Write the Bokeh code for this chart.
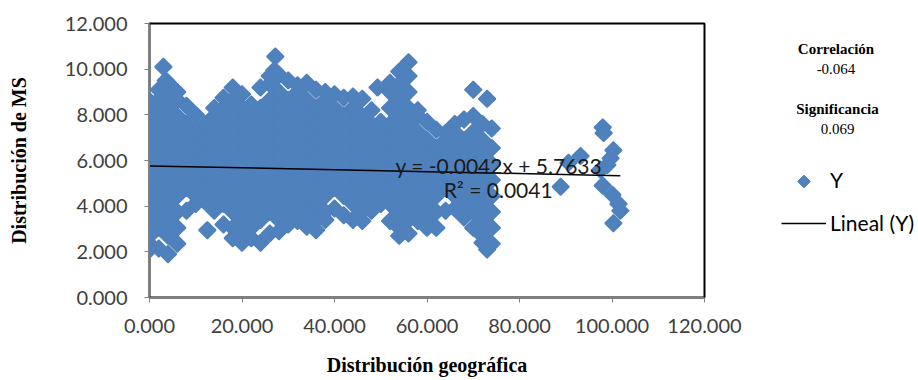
import math
from bokeh.plotting import figure
from bokeh.layouts import row
from bokeh.models import (Range1d, NumeralTickFormatter, FixedTicker, Label,
                          Legend, LegendItem)
from bokeh.embed import file_html
from bokeh.resources import INLINE

# ---- data ----
cloud_x = [0, 2, 4, 6, 8, 10, 12, 14, 16, 18, 20, 22, 24, 26, 28, 30, 32, 34, 36,
           38, 40, 42, 44, 46, 48, 50, 52, 54, 56, 58, 60, 62, 64, 66, 68, 70, 72, 74]
cloud_y = [
    [2.1, 2.35, 2.7, 3.05, 3.4, 3.75, 4.1, 4.45, 4.8, 5.15, 5.5, 5.85, 6.2, 6.55, 6.9, 7.25, 7.6, 7.95, 8.3, 8.6],
    [2.15, 3.05, 3.75, 4.45, 5.15, 5.85, 6.55, 7.25, 7.95, 8.65, 9.1],
    [1.9, 2.7, 3.4, 4.1, 4.8, 5.5, 6.2, 6.9, 7.6, 8.3, 9.0, 9.4],
    [2.35, 3.05, 3.75, 4.45, 5.15, 5.85, 6.55, 7.25, 7.95, 8.65, 9.0],
    [3.8, 4.8, 5.5, 6.2, 6.9, 7.6, 8.4],
    [4.1, 4.45, 5.15, 5.85, 6.55, 7.25, 8.0],
    [4.2, 4.8, 5.5, 6.2, 6.9, 7.6],
    [3.8, 4.45, 5.15, 5.85, 6.55, 7.25, 7.95, 8.3],
    [3.2, 4.1, 4.8, 5.5, 6.2, 6.9, 7.6, 8.3, 8.75],
    [2.6, 3.05, 3.75, 4.45, 5.15, 5.85, 6.55, 7.25, 7.95, 8.65, 9.2],
    [2.4, 2.7, 3.4, 4.1, 4.8, 5.5, 6.2, 6.9, 7.6, 8.3, 8.9],
    [2.6, 3.05, 3.75, 4.45, 5.15, 5.85, 6.55, 7.25, 7.95, 8.45],
    [2.4, 3.4, 4.1, 4.8, 5.5, 6.2, 6.9, 7.6, 8.3, 9.2],
    [2.8, 3.75, 4.45, 5.15, 5.85, 6.55, 7.25, 7.95, 8.65, 9.35, 9.7],
    [2.9, 3.4, 4.1, 4.8, 5.5, 6.2, 6.9, 7.6, 8.3, 9.0, 9.75],
    [3.2, 3.75, 4.45, 5.15, 5.85, 6.55, 7.25, 7.95, 8.65, 9.5],
    [3.35, 4.1, 4.8, 5.5, 6.2, 6.9, 7.6, 8.3, 9.0, 9.3],
    [3.1, 3.75, 4.45, 5.15, 5.85, 6.55, 7.25, 7.95, 8.65, 9.4],
    [2.95, 3.4, 4.1, 4.8, 5.5, 6.2, 6.9, 7.6, 8.3, 9.1],
    [3.4, 3.75, 4.45, 5.15, 5.85, 6.55, 7.25, 7.95, 8.65, 9.0],
    [3.9, 4.8, 5.5, 6.2, 6.9, 7.6, 8.3, 8.9],
    [3.6, 4.45, 5.15, 5.85, 6.55, 7.25, 7.95, 8.75],
    [3.4, 4.1, 4.8, 5.5, 6.2, 6.9, 7.6, 8.3, 8.8],
    [3.35, 3.75, 4.45, 5.15, 5.85, 6.55, 7.25, 7.95, 8.7],
    [3.8, 4.1, 4.8, 5.5, 6.2, 6.9, 7.6, 8.2],
    [4.1, 4.45, 5.15, 5.85, 6.55, 7.25, 7.7],
    [3.35, 4.1, 4.8, 5.5, 6.2, 6.9, 7.6, 8.3, 9.0, 9.4],
    [2.7, 3.05, 3.75, 4.45, 5.15, 5.85, 6.55, 7.25, 7.95, 8.65, 9.35, 9.9],
    [2.8, 3.4, 4.1, 4.8, 5.5, 6.2, 6.9, 7.6, 8.3, 9.0, 9.7, 10.3],
    [3.35, 3.75, 4.45, 5.15, 5.85, 6.55, 7.25, 7.95, 8.2],
    [3.05, 3.4, 4.1, 4.8, 5.5, 6.2, 6.9, 7.7],
    [3.05, 3.75, 4.45, 5.15, 5.85, 6.55, 7.35],
    [3.8, 4.8, 5.5, 6.2, 6.9, 7.2],
    [3.9, 4.45, 5.15, 5.85, 6.55, 7.25, 7.6],
    [3.5, 4.1, 4.8, 5.5, 6.2, 6.9, 7.8],
    [3.05, 3.75, 4.45, 5.15, 5.85, 6.55, 7.25, 7.95],
    [2.4, 2.7, 3.4, 4.1, 4.8, 5.5, 6.2, 6.9, 7.6],
    [2.35, 3.05, 3.75, 4.45, 5.15, 5.85, 6.55, 7.4],
]
outlier_x = [3, 3.5, 12.5, 27.2, 27, 49.3, 70, 73, 73, 88.9, 90.6, 93.2, 97.5, 98,
             98.2, 99, 99.7, 100.3, 98, 100.1, 101.4, 101.8, 100.3]
outlier_y = [10.1, 9.5, 2.95, 10.55, 9.95, 9.2, 9.1, 8.7, 2.1, 4.85, 5.9, 6.2, 5.6, 7.45,
             7.2, 5.8, 6.1, 6.45, 4.9, 4.5, 4.1, 3.8, 3.25]

x_ticks = [0, 20, 40, 60, 80, 100, 120]
y_ticks = [0, 2, 4, 6, 8, 10, 12]
trend_slope = -0.0042
trend_intercept = 5.7633
trend_text = "y = -0.0042x + 5.7633"
r2_text = "R² = 0.0041"
correlation_value = "-0.064"
significance_value = "0.069"

# ---- build points ----
xs, ys = [], []
for cx, col in zip(cloud_x, cloud_y):
    for cy in col:
        xs.append(cx)
        ys.append(cy)
xs += outlier_x
ys += outlier_y

BLUE = "#4F81BD"

# ---- main chart ----
p = figure(width=744, height=380, x_range=Range1d(0, 120), y_range=Range1d(0, 12),
           output_backend="svg", toolbar_location=None,
           min_border_left=149, min_border_right=40, min_border_top=23, min_border_bottom=83)
p.grid.visible = False
p.outline_line_color = "black"
p.outline_line_width = 2

sc = p.scatter(xs, ys, marker="square", angle=math.pi / 4, size=12,
               fill_color=BLUE, line_color=BLUE, line_width=1.5)
tx = [0, max(xs)]
ty = [trend_intercept + trend_slope * v for v in tx]
tl = p.line(tx, ty, line_color="black", line_width=1.5)

for ax in (p.xaxis[0], p.yaxis[0]):
    ax.axis_line_color = "#7f7f7f"
    ax.major_tick_line_color = "#7f7f7f"
    ax.major_tick_out = 5
    ax.major_tick_in = 0
    ax.minor_tick_line_color = None
    ax.major_label_text_font = "Lato"
    ax.major_label_text_font_size = "20px"
    ax.major_label_text_color = "#404040"
    ax.formatter = NumeralTickFormatter(format="0.000")
    ax.axis_label_text_font = "Liberation Serif"
    ax.axis_label_text_font_style = "bold"
    ax.axis_label_text_font_size = "20px"
    ax.axis_label_text_color = "black"

p.xaxis[0].ticker = FixedTicker(ticks=x_ticks)
p.yaxis[0].ticker = FixedTicker(ticks=y_ticks)
p.xaxis[0].axis_label = "Distribución geográfica"
p.yaxis[0].axis_label = "Distribución de MS"
p.xaxis[0].major_label_standoff = 16
p.xaxis[0].axis_label_standoff = 18
p.yaxis[0].major_label_standoff = 17
p.yaxis[0].axis_label_standoff = 32

p.add_layout(Label(x=53.2, y=5.8, text=trend_text, text_font="Lato", text_font_size="21px",
                   text_baseline="middle", text_color="#1a1a1a"))
p.add_layout(Label(x=63.6, y=4.75, text=r2_text, text_font="Lato", text_font_size="21px",
                   text_baseline="middle", text_color="#1a1a1a"))

# ---- right-hand panel: statistics and legend ----
# its frame is aligned with the main frame (page y 23..297), 1 unit = 1 px
p2 = figure(width=174, height=380, x_range=Range1d(0, 174), y_range=Range1d(0, 274),
            output_backend="svg", toolbar_location=None,
            min_border_left=0, min_border_right=0, min_border_top=23, min_border_bottom=83,
            x_axis_type=None, y_axis_type=None)
p2.outline_line_color = None

side = [("Correlación", 91.5, 249, "bold"), (correlation_value, 91.5, 229, "normal"),
        ("Significancia", 93, 189, "bold"), (significance_value, 93, 169, "normal")]
for t, lx, ly, st in side:
    p2.add_layout(Label(x=lx, y=ly, text=t, text_font="Liberation Serif", text_font_size="15px",
                        text_font_style=st, text_align="center", text_baseline="middle",
                        text_color="black"))

# legend: the "Y" entry's glyph slot is filled by a rotated-square (diamond) marker
leg_sc = p2.scatter([-50], [-50], marker="square", angle=math.pi / 4, size=12,
                    fill_alpha=0, line_alpha=0)
leg_ln = p2.line([-60, -50], [-50, -50], line_color="black", line_width=1.5)
p2.scatter([59.5], [116], marker="square", angle=math.pi / 4, size=9,
           fill_color=BLUE, line_color=BLUE, line_width=1)

legend = Legend(items=[LegendItem(label="Y", renderers=[leg_sc]),
                       LegendItem(label="Lineal (Y)", renderers=[leg_ln])],
                location=(37, 62), glyph_width=45, glyph_height=24, label_height=24,
                label_standoff=4, spacing=18, padding=0, margin=0,
                border_line_color=None, background_fill_alpha=0,
                label_text_font="Lato", label_text_font_size="21px", label_text_color="black")
p2.add_layout(legend, "center")

open("out.html", "w").write(file_html(row(p, p2), INLINE))
